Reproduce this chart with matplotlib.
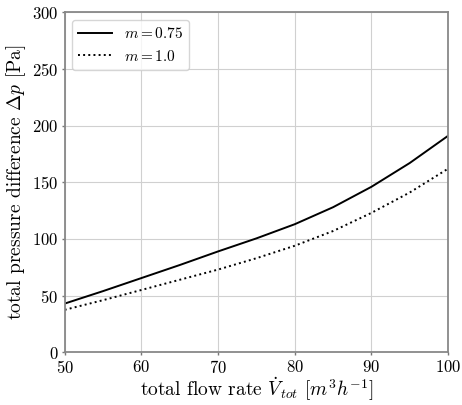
import numpy as np
import matplotlib.pyplot as plt

plt.rcParams['font.family'] = 'serif'
plt.rcParams['font.serif'] = ['cmr10']
plt.rcParams['mathtext.fontset'] = 'cm'
plt.rcParams['axes.unicode_minus'] = False
plt.rcParams['axes.formatter.use_mathtext'] = True

# flow rate [m^3/h]
flow = [50, 55, 60, 65, 70, 75, 80, 85, 90, 95, 100]
# total pressure difference [Pa]
dp_m075 = [43, 54, 65.5, 77, 89, 100.5, 113, 128, 146, 167, 191]
dp_m10 = [37.5, 46, 55, 64, 73, 83, 94, 107, 123, 141, 162]

fig, ax = plt.subplots(figsize=(4.62, 4.05), dpi=100)
ax.plot(flow, dp_m075, color='black', linestyle='-', linewidth=1.4, label=r'$m=0.75$')
ax.plot(flow, dp_m10, color='black', linestyle=':', linewidth=1.4, label=r'$m=1.0$')

ax.set_xlim(50, 100)
ax.set_ylim(0, 300)
ax.set_xticks([50, 60, 70, 80, 90, 100])
ax.set_yticks([0, 50, 100, 150, 200, 250, 300])
ax.tick_params(labelsize=12, length=2.5, width=1, color='#777777', pad=2)
ax.grid(True, color='#d0d0d0', linewidth=0.8)
for s in ax.spines.values():
    s.set_color('#888888')
    s.set_linewidth(1.3)

ax.set_xlabel(r'total flow rate $\dot{V}_{tot}$ $[m^3h^{-1}]$', fontsize=14, labelpad=0)
ax.set_ylabel(r'total pressure difference $\Delta p$ [Pa]', fontsize=14, labelpad=3)
leg = ax.legend(loc='upper left', fontsize=11, handlelength=2.2)
leg.get_frame().set_edgecolor('#cccccc')

plt.subplots_adjust(left=0.14, right=0.97, bottom=0.13, top=0.97)
plt.savefig('out.png', dpi=100)
